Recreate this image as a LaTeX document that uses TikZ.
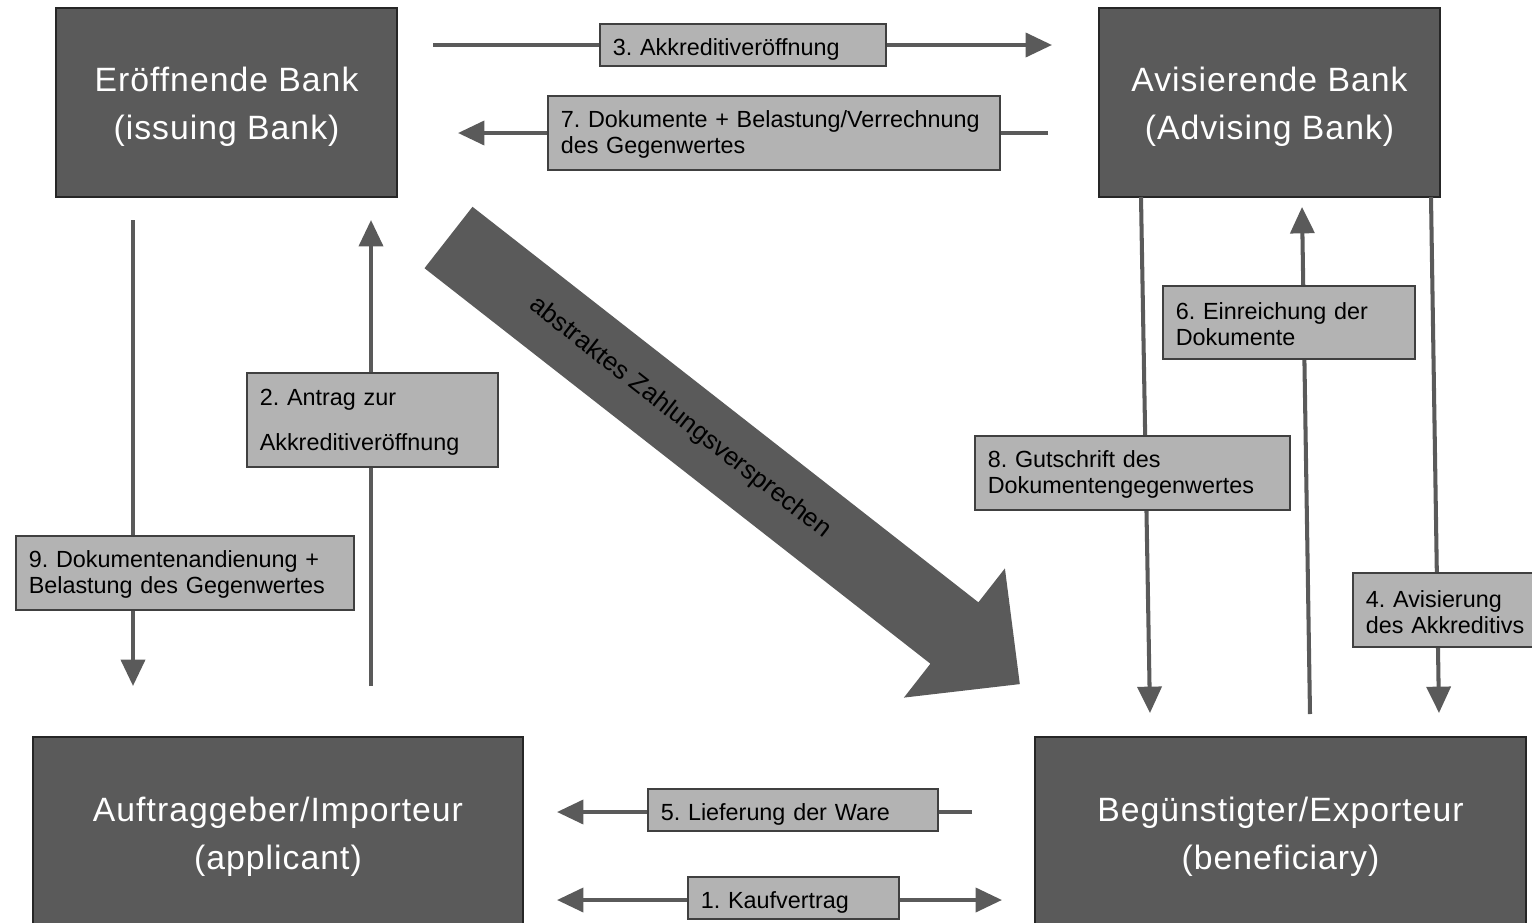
\documentclass[tikz,border=0pt]{standalone}
\usepackage{fontspec}
\setmainfont{Liberation Sans}
\usetikzlibrary{arrows.meta}
\definecolor{boxdark}{HTML}{5A5A5A}
\definecolor{boxedge}{HTML}{262626}
\definecolor{labelfill}{HTML}{B3B3B3}
\definecolor{labeledge}{HTML}{404040}
\definecolor{flowcol}{HTML}{5A5A5A}
\begin{document}
\frenchspacing
\hyphenpenalty=10000
\begin{tikzpicture}[x=0.02cm,y=-0.02cm,
  partybox/.style={draw=boxedge, line width=1.2pt, fill=boxdark, inner sep=0pt},
  partytext/.style={text=white, align=center, inner sep=0pt,
    font=\fontsize{19.2}{27.2}\selectfont\addfontfeature{LetterSpace=3}},
  flow/.style={draw=flowcol, line width=2.3pt,
    -{Triangle[length=15pt,width=13.6pt]}},
  flowboth/.style={draw=flowcol, line width=2.3pt,
    {Triangle[length=15pt,width=13.6pt]}-{Triangle[length=15pt,width=13.6pt]}},
  lab/.style={draw=labeledge, fill=labelfill, line width=0.9pt,
    anchor=north west, align=left, inner xsep=0.26cm, inner ysep=0pt,
    text=black, font=\fontsize{13.3}{14.7}\selectfont},
  oneline/.style={minimum height=0.84cm, text height=0.44cm, text depth=0pt},
  twoline/.style={minimum height=1.48cm, text height=0.42cm}]
\useasboundingbox (0,0) rectangle (1532,923);

% parties
\node[partybox, minimum width=6.82cm, minimum height=3.78cm] (issuing) at (226.5,102.5) {};
\node[partytext] (issuingtxt) at (226.5,107) {Eröffnende Bank\\(issuing Bank)};
\node[partybox, minimum width=6.82cm, minimum height=3.78cm] (advising) at (1269.5,102.5) {};
\node[partytext] (advisingtxt) at (1269.5,107) {Avisierende Bank\\(Advising Bank)};
\node[partybox, minimum width=9.8cm, minimum height=3.88cm] (applicant) at (278,834) {};
\node[partytext] (applicanttxt) at (278,837) {Auftraggeber/Importeur\\(applicant)};
\node[partybox, minimum width=9.82cm, minimum height=3.88cm] (beneficiary) at (1280.5,834) {};
\node[partytext] (beneficiarytxt) at (1280.5,837) {Begünstigter/Exporteur\\(beneficiary)};

% free ends of the flows
\coordinate (c3s) at (433,45);   \coordinate (c3e) at (1052,45);
\coordinate (c7s) at (1048,133); \coordinate (c7e) at (458,133);
\coordinate (c9s) at (133,220);  \coordinate (c9e) at (133,686);
\coordinate (c2s) at (371,686);  \coordinate (c2e) at (371,220);
\coordinate (c8s) at (1141,197); \coordinate (c8e) at (1150,713);
\coordinate (c6s) at (1310,714); \coordinate (c6e) at (1302,207);
\coordinate (c4s) at (1431,197); \coordinate (c4e) at (1439,713);
\coordinate (c5s) at (972,812);  \coordinate (c5e) at (557,812);
\coordinate (c1s) at (557,900);  \coordinate (c1e) at (1002,900);

% flows
\draw[flow] (c3s) -- (c3e);
\draw[flow] (c7s) -- (c7e);
\draw[flow] (c9s) -- (c9e);
\draw[flow] (c2s) -- (c2e);
\draw[flow] (c8s) -- (c8e);
\draw[flow] (c6s) -- (c6e);
\draw[flow] (c4s) -- (c4e);
\draw[flow] (c5s) -- (c5e);
\draw[flowboth] (c1s) -- (c1e);

% block arrow: abstract payment promise
\fill[boxdark] (472.5,206.8) -- (978.4,602.3) -- (1004.9,568.4) -- (1019.8,684.1)
  -- (903.9,697.6) -- (930.4,663.7) -- (424.5,268.2) -- cycle;
\node[rotate=-38, text=black, font=\fontsize{14.7}{16}\selectfont] (promise) at (680,418)
  {abstraktes Zahlungsversprechen};

% flow labels
\node[lab, oneline, text width=5.2cm] (l3) at (599,23)
  {3. Akkreditiveröffnung};
\node[lab, twoline, text width=8.52cm] (l7) at (547,95)
  {\mbox{7. Dokumente + Belastung/Verrechnung}\\des Gegenwertes};
\node[lab, text width=4.5cm, minimum height=1.88cm, text height=0.42cm,
  font=\fontsize{13.3}{26}\selectfont] (l2) at (246,372)
  {2. Antrag zur\\Akkreditiveröffnung};
\node[lab, twoline, text width=6.24cm] (l9) at (15,535)
  {9. Dokumentenandienung +\\Belastung des Gegenwertes};
\node[lab, twoline, text width=4.52cm, minimum height=1.46cm] (l6) at (1162,285)
  {6. Einreichung der\\Dokumente};
\node[lab, twoline, text width=5.78cm] (l8) at (974,435)
  {8. Gutschrift des\\Dokumentengegenwertes};
\node[lab, twoline, text width=3.2cm] (l4) at (1352,572)
  {4. Avisierung\\\mbox{des Akkreditivs}};
\node[lab, oneline, text width=5.28cm] (l5) at (647,788)
  {5. Lieferung der Ware};
\node[lab, oneline, text width=3.7cm] (l1) at (687,876)
  {1. Kaufvertrag};
\end{tikzpicture}
\end{document}
